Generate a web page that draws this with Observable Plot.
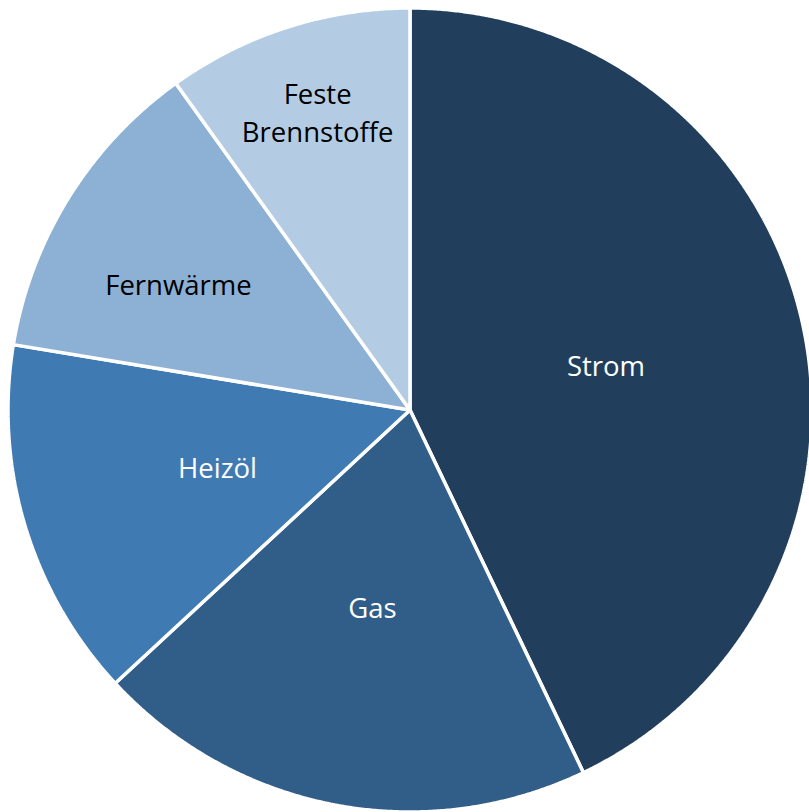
<!DOCTYPE html>
<html>
<head>
<meta charset="utf-8">
<script src="https://cdn.jsdelivr.net/npm/d3@7"></script>
<script src="https://cdn.jsdelivr.net/npm/@observablehq/plot@0.6"></script>
<style>
  html, body { margin: 0; padding: 0; background: #fff; }
  #chart svg { display: block; }
</style>
</head>
<body>
<div id="chart"></div>
<script>
const categories = ["Strom", "Gas", "Heizöl", "Fernwärme", "Feste Brennstoffe"];
const shares = [42.9, 20.2, 14.5, 12.5, 9.9];
const colors = ["#213f5d", "#305e88", "#3f7ab3", "#8db0d5", "#b3cce4"];
const textColors = ["#ffffff", "#ffffff", "#ffffff", "#000000", "#000000"];

const data = categories.map((c, i) => ({category: c, value: shares[i]}));
const arcs = d3.pie().sort(null).value(d => d.value)(data);

// polygon outline of each slice in unit-circle coordinates
const slicePoints = [];
arcs.forEach(a => {
  const n = Math.max(2, Math.ceil((a.endAngle - a.startAngle) / 0.005));
  slicePoints.push({category: a.data.category, x: 0, y: 0});
  for (let k = 0; k <= n; k++) {
    const t = a.startAngle + (a.endAngle - a.startAngle) * k / n;
    slicePoints.push({category: a.data.category, x: Math.sin(t), y: Math.cos(t)});
  }
  slicePoints.push({category: a.data.category, x: 0, y: 0});
});

// best-fit style label placement: narrow slices push the label outward
const labels = arcs.map((a, i) => {
  const span = a.endAngle - a.startAngle;
  let mid = (a.startAngle + a.endAngle) / 2;
  let r = 0.5;
  if (span <= 0.9 && span > 0.7) { r = 0.655; mid -= 0.06; }
  else if (span <= 0.7) { r = 0.775; mid += 0.01; }
  return {category: a.data.category, x: Math.sin(mid) * r, y: Math.cos(mid) * r, color: textColors[i],
          text: a.data.category.replace(" ", "\n")};
});

const cx = 409.5, cy = 409.5, R = 402;
const chart = Plot.plot({
  width: 809,
  height: 812,
  margin: 0,
  x: {domain: [-1, 1], range: [cx - R, cx + R], axis: null},
  y: {domain: [-1, 1], range: [cy + R, cy - R], axis: null},
  color: {domain: categories, range: colors},
  style: {fontFamily: "'Open Sans', sans-serif"},
  marks: [
    Plot.line(slicePoints, {x: "x", y: "y", z: "category", fill: "category", stroke: "#ffffff", strokeWidth: 3.5, strokeLinejoin: "miter", curve: "linear"}),
    Plot.text(labels, {x: "x", y: "y", text: "text", fill: "color", fontSize: 27.5, lineHeight: 1.38, textAnchor: "middle", dy: -2})
  ]
});
document.getElementById("chart").appendChild(chart);
</script>
</body>
</html>
